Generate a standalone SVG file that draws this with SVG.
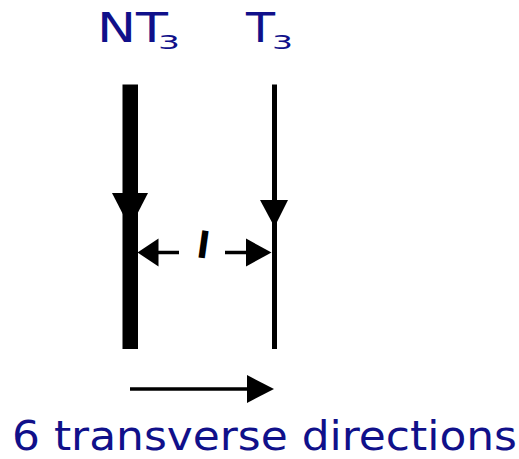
<svg xmlns="http://www.w3.org/2000/svg" width="519" height="459" viewBox="0 0 519 459">
  <style>
    .lbl { font-family: "DejaVu Sans", "Liberation Sans", sans-serif; fill: #10108a; }
    .ink { fill: #000; }
  </style>
  <rect width="519" height="459" fill="#fff"/>
  <g id="node-NT3">
    <rect class="ink" x="122.5" y="84.5" width="15.5" height="264.5"/>
    <polygon class="ink" points="112,193 148,193 130,228"/>
    <text class="lbl" x="97" y="42" font-size="41" textLength="71" lengthAdjust="spacingAndGlyphs">NT</text>
    <text class="lbl" x="158" y="49" font-size="20" textLength="22" lengthAdjust="spacingAndGlyphs">3</text>
  </g>
  <g id="node-T3">
    <rect class="ink" x="272" y="84.5" width="5" height="264.5"/>
    <polygon class="ink" points="260,200 288,200 274.5,227"/>
    <text class="lbl" x="246" y="42" font-size="41" textLength="29" lengthAdjust="spacingAndGlyphs">T</text>
    <text class="lbl" x="272" y="49" font-size="20" textLength="21" lengthAdjust="spacingAndGlyphs">3</text>
  </g>
  <g id="connectors">
    <line x1="157" y1="252.5" x2="179" y2="252.5" stroke="#000" stroke-width="3.5"/>
    <polygon class="ink" points="137.5,252.5 158.5,238.5 158.5,266.5"/>
    <line x1="225" y1="252.5" x2="247" y2="252.5" stroke="#000" stroke-width="3.5"/>
    <polygon class="ink" points="271.5,252.5 246,238.5 246,266.5"/>
    <text x="203.5" y="258" font-family="DejaVu Sans, sans-serif" font-size="36" font-weight="bold" text-anchor="middle" fill="#000" transform="rotate(8 203.5 245)">l</text>
    <line x1="130" y1="389" x2="248" y2="389" stroke="#000" stroke-width="3.5"/>
    <polygon class="ink" points="274,389 247,375 247,403"/>
  </g>
  <g id="caption">
    <text class="lbl" x="12" y="450" font-size="40" textLength="505" lengthAdjust="spacingAndGlyphs">6 transverse directions</text>
  </g>
</svg>
